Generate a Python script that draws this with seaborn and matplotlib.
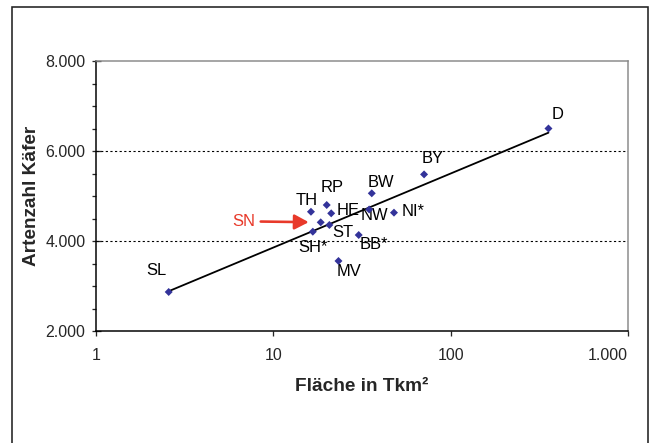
import numpy as np
import pandas as pd
import matplotlib
matplotlib.use("Agg")
import matplotlib.pyplot as plt
import seaborn as sns
from matplotlib.ticker import FixedLocator, MultipleLocator, FuncFormatter

# Daten: Fläche (Tkm²) und Artenzahl Käfer je Bundesland
laender = ["D", "BY", "BW", "NI*", "NW", "RP", "HE", "TH", "SN", "ST", "SH*", "BB*", "MV", "SL"]
flaeche = [356, 70.8, 35.9, 47.9, 34.7, 20.0, 21.2, 16.3, 18.5, 20.7, 16.7, 30.3, 23.3, 2.57]
artenzahl = [6500, 5480, 5060, 4630, 4700, 4800, 4615, 4650, 4415, 4356, 4207, 4133, 3556, 2867]

y_ticks = [2000, 4000, 6000, 8000]
x_ticks = [1, 10, 100, 1000]

# Lage der Beschriftungen relativ zum Punkt (Punkte)
label_offsets = {
    "D": (9, 14), "BY": (9, 16), "BW": (9, 11), "NI*": (19, 1), "NW": (5, -6),
    "RP": (5, 18), "HE": (17, 3), "TH": (-4, 11), "SN": (-77, 1), "ST": (13, -8),
    "SH*": (0, -16), "BB*": (15, -9), "MV": (11, -11), "SL": (-12, 21),
}

df = pd.DataFrame({"land": laender, "flaeche": flaeche, "arten": artenzahl})

sns.set_style("ticks")
plt.rcParams["font.family"] = ["Liberation Sans", "DejaVu Sans"]

fig = plt.figure(figsize=(653 / 72, 443 / 72), dpi=72)
ax = fig.add_axes([96 / 653, 1 - 331 / 443, (628 - 96) / 653, (331 - 61) / 443])

# logarithmische Trendlinie wie in Excel
sns.regplot(data=df, x="flaeche", y="arten", logx=True, ci=None, scatter=False,
            color="black", line_kws={"lw": 1.8}, ax=ax)
sns.scatterplot(data=df, x="flaeche", y="arten", marker="D", s=32, color="#33339a",
                edgecolor="none", zorder=4, ax=ax)

ax.set_xscale("log")
ax.set_xlim(1, 1000)
ax.set_ylim(2000, 8000)

for v in [4000, 6000]:
    ax.axhline(v, color="black", lw=1.1, ls=(0, (2, 2.2)), zorder=1)

ax.xaxis.set_major_locator(FixedLocator(x_ticks))
ax.xaxis.set_minor_locator(FixedLocator([]))
ax.yaxis.set_major_locator(FixedLocator(y_ticks))
ax.yaxis.set_minor_locator(MultipleLocator(500))
fmt = FuncFormatter(lambda v, p: f"{v:,.0f}".replace(",", "."))
ax.xaxis.set_major_formatter(fmt)
ax.yaxis.set_major_formatter(fmt)

ax.tick_params(axis="x", which="major", direction="out", length=5, width=1.3, pad=12, labelsize=16)
ax.tick_params(axis="y", which="major", direction="inout", length=9, width=1.3, pad=6, labelsize=16)
ax.tick_params(axis="y", which="minor", direction="out", length=4, width=1.3)

# letzte Beschriftung rechtsbündig wie im Original
fig.canvas.draw()
ax.get_xticklabels()[-1].set_horizontalalignment("right")

for s in ["left", "bottom"]:
    ax.spines[s].set_color("black")
    ax.spines[s].set_linewidth(1.5)
for s in ["top", "right"]:
    ax.spines[s].set_color("#8a8a8a")
    ax.spines[s].set_linewidth(1.5)

ax.set_xlabel("Fläche in Tkm²", fontsize=19, fontweight="bold", labelpad=15)
ax.set_ylabel("Artenzahl Käfer", fontsize=19, fontweight="bold", labelpad=5)

red = "#e8392a"
for _, r in df.iterrows():
    dx, dy = label_offsets[r["land"]]
    if r["land"] == "SN":
        ax.annotate("SN", xy=(r["flaeche"], r["arten"]), xytext=(dx, dy),
                    textcoords="offset points", ha="center", va="center",
                    fontsize=16.5, color=red,
                    arrowprops=dict(arrowstyle="-|>,head_length=0.85,head_width=0.45",
                                    mutation_scale=14, color=red, lw=2.6,
                                    shrinkA=3, shrinkB=12))
    else:
        ax.annotate(r["land"], xy=(r["flaeche"], r["arten"]), xytext=(dx, dy),
                    textcoords="offset points", ha="center", va="center",
                    fontsize=16.5, color="black")

# Rahmen um das ganze Diagramm
frame = plt.Rectangle((12 / 653, -0.05), (648 - 12) / 653, 1.05 - 7 / 443,
                      transform=fig.transFigure, fill=False, lw=1.6,
                      edgecolor="#222222")
fig.patches.append(frame)

fig.savefig("out.png", dpi=72)
